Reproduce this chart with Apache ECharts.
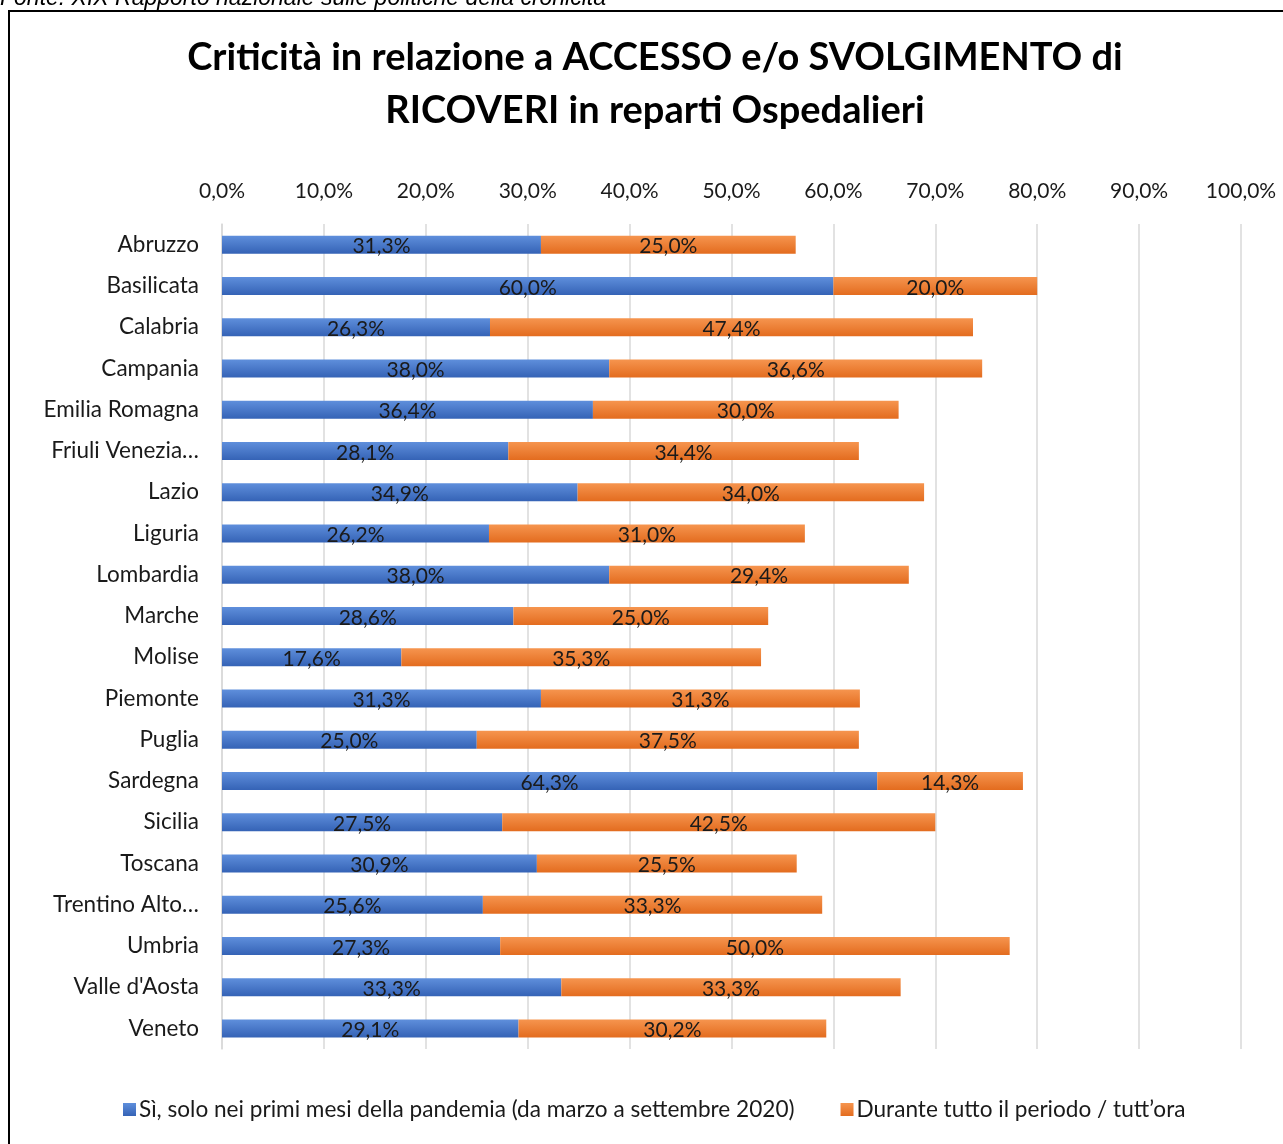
<!DOCTYPE html>
<html>
<head>
<meta charset="utf-8">
<script src="https://cdn.jsdelivr.net/npm/echarts@6/dist/echarts.min.js"></script>
<style>
  html, body { margin: 0; padding: 0; background: #fff; }
  #chart { width: 1283px; height: 1144px; }
</style>
</head>
<body>
<div id="chart"></div>
<script>
// regioni
const regions = [
  'Abruzzo', 'Basilicata', 'Calabria', 'Campania', 'Emilia Romagna',
  'Friuli Venezia…', 'Lazio', 'Liguria', 'Lombardia', 'Marche',
  'Molise', 'Piemonte', 'Puglia', 'Sardegna', 'Sicilia',
  'Toscana', 'Trentino Alto…', 'Umbria', "Valle d'Aosta", 'Veneto'
];
// Sì, solo nei primi mesi della pandemia
const primiMesi = [31.3, 60.0, 26.3, 38.0, 36.4, 28.1, 34.9, 26.2, 38.0, 28.6,
                   17.6, 31.3, 25.0, 64.3, 27.5, 30.9, 25.6, 27.3, 33.3, 29.1];
// Durante tutto il periodo / tutt'ora
const tuttoPeriodo = [25.0, 20.0, 47.4, 36.6, 30.0, 34.4, 34.0, 31.0, 29.4, 25.0,
                      35.3, 31.3, 37.5, 14.3, 42.5, 25.5, 33.3, 50.0, 33.3, 30.2];
const seriesNames = [
  'Sì, solo nei primi mesi della pandemia (da marzo a settembre 2020)',
  'Durante tutto il periodo / tutt’ora'
];

const FONT = 'Lato, "Noto Sans", sans-serif';
const pct = v => v.toFixed(1).replace('.', ',') + '%';

const grad = (top, bottom) => new echarts.graphic.LinearGradient(0, 0, 0, 1, [
  { offset: 0, color: top },
  { offset: 1, color: bottom }
]);

const chart = echarts.init(document.getElementById('chart'));

const labelStyle = {
  show: true,
  position: 'inside',
  color: '#1a1a1a',
  fontFamily: FONT,
  fontSize: 21,
  offset: [0, 2],
  formatter: p => pct(p.value)
};

const option = {
  animation: false,
  title: {
    text: 'Criticità in relazione a ACCESSO e/o SVOLGIMENTO di\nRICOVERI in reparti Ospedalieri',
    left: 650,
    top: 26,
    textAlign: 'center',
    textStyle: {
      fontFamily: FONT,
      fontWeight: 'bold',
      fontSize: 38,
      lineHeight: 53,
      color: '#000'
    }
  },
  graphic: [
    {
      type: 'rect',
      shape: { x: 9, y: 11, width: 1300, height: 1200 },
      style: { fill: 'none', stroke: '#000', lineWidth: 2 }
    },
    {
      type: 'text',
      left: 0,
      top: -13,
      style: {
        text: 'Fonte: XIX Rapporto nazionale sulle politiche della cronicità',
        fontFamily: '"Liberation Sans", Arial, sans-serif',
        fontStyle: 'italic',
        fontSize: 23,
        fill: '#000'
      }
    }
  ],
  legend: {
    bottom: 18,
    left: 118,
    itemWidth: 13,
    itemHeight: 13,
    itemGap: 46,
    icon: 'rect',
    textStyle: { fontFamily: FONT, fontSize: 22.6, color: '#1a1a1a', padding: [0, 0, 0, -2] },
    data: seriesNames
  },
  grid: {
    left: 222,
    right: 42,
    top: 224,
    bottom: 95
  },
  xAxis: {
    type: 'value',
    position: 'top',
    min: 0,
    max: 100,
    interval: 10,
    axisLine: { show: false },
    axisTick: { show: false },
    axisLabel: {
      fontFamily: FONT,
      fontSize: 21,
      color: '#1a1a1a',
      margin: 22,
      formatter: v => pct(v)
    },
    splitLine: { lineStyle: { color: '#d9d9d9', width: 1.5 } }
  },
  yAxis: {
    type: 'category',
    inverse: true,
    data: regions,
    axisLine: { lineStyle: { color: '#d9d9d9', width: 1.5 } },
    axisTick: { show: false },
    axisLabel: {
      fontFamily: FONT,
      fontSize: 22.5,
      color: '#1a1a1a',
      margin: 23
    }
  },
  series: [
    {
      name: seriesNames[0],
      type: 'bar',
      stack: 'tot',
      barWidth: 18,
      data: primiMesi,
      itemStyle: { color: grad('#5f8fdc', '#3563b6') },
      label: labelStyle
    },
    {
      name: seriesNames[1],
      type: 'bar',
      stack: 'tot',
      barWidth: 18,
      data: tuttoPeriodo,
      itemStyle: { color: grad('#f6954f', '#e36c1f') },
      label: labelStyle
    }
  ]
};

chart.setOption(option);
window.addEventListener('resize', () => chart.resize());
</script>
</body>
</html>
